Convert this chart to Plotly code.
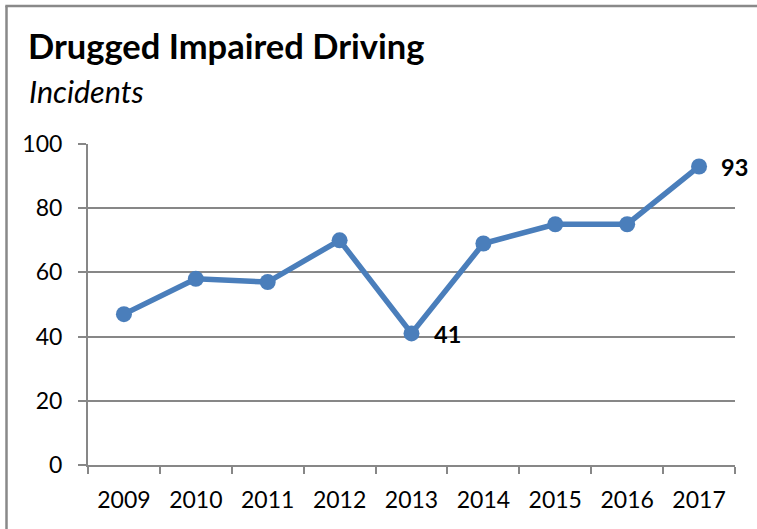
import plotly.graph_objects as go

years = ["2009", "2010", "2011", "2012", "2013", "2014", "2015", "2016", "2017"]
incidents = [47, 58, 57, 70, 41, 69, 75, 75, 93]
labelled_years = ["2013", "2017"]

W, H = 757, 529
ML, MR, MT, MB = 88, 22, 144, 64
PW, PH = W - ML - MR, H - MT - MB

def px_x(x):
    return (x - ML) / PW

def px_y(y):
    return 1 - (y - MT) / PH

fig = go.Figure()
fig.add_trace(go.Scatter(
    x=years, y=incidents,
    mode="lines+markers",
    line=dict(color="#4A7EBB", width=5.5),
    marker=dict(color="#4A7EBB", size=16),
    hoverinfo="skip",
    cliponaxis=False,
))

# value labels beside the highlighted points (category index on the x axis)
value_labels = [
    dict(x=i, y=v, xref="x", yref="y", text=f"<b>{v}</b>",
         xanchor="left", yanchor="middle", xshift=20, yshift=-1,
         showarrow=False, font=dict(family="Lato", size=23.5, color="black"))
    for i, (y, v) in enumerate(zip(years, incidents)) if y in labelled_years
]

grid = "#878787"
fig.update_layout(
    width=W, height=H,
    margin=dict(l=ML, r=MR, t=MT, b=MB),
    paper_bgcolor="white", plot_bgcolor="white",
    showlegend=False,
    font=dict(family="Lato", size=23, color="black"),
    xaxis=dict(
        type="category", range=[-0.5, len(years) - 0.5], showgrid=False,
        showline=True, linecolor=grid, linewidth=2,
        ticks="outside", tickson="boundaries", ticklen=7, tickwidth=2, tickcolor=grid,
        tickfont=dict(size=23), ticklabelstandoff=13,
    ),
    yaxis=dict(
        range=[0, 100], dtick=20,
        showgrid=True, gridcolor=grid, gridwidth=1.5,
        showline=True, linecolor=grid, linewidth=2,
        ticks="outside", ticklen=8, tickwidth=2, tickcolor=grid,
        tickfont=dict(size=23), ticklabelstandoff=11,
        zeroline=False,
    ),
    shapes=[
        dict(type="line", xref="paper", yref="paper",
             x0=px_x(6.5), x1=px_x(6.5), y0=px_y(535), y1=px_y(6),
             line=dict(color="#898989", width=2.5)),
        dict(type="line", xref="paper", yref="paper",
             x0=px_x(5.3), x1=px_x(765), y0=px_y(6), y1=px_y(6),
             line=dict(color="#898989", width=2.5)),
    ],
    annotations=value_labels + [
        dict(text="<b>Drugged Impaired Driving</b>", xref="paper", yref="paper",
             x=px_x(26), y=px_y(46), xanchor="left", yanchor="middle",
             showarrow=False, font=dict(family="Lato", size=34.5, color="black")),
        dict(text="<i>Incidents</i>", xref="paper", yref="paper",
             x=px_x(27), y=px_y(91), xanchor="left", yanchor="middle",
             showarrow=False, font=dict(family="Lato", size=30.5, color="black")),
    ],
)

fig.write_html("out.html")
